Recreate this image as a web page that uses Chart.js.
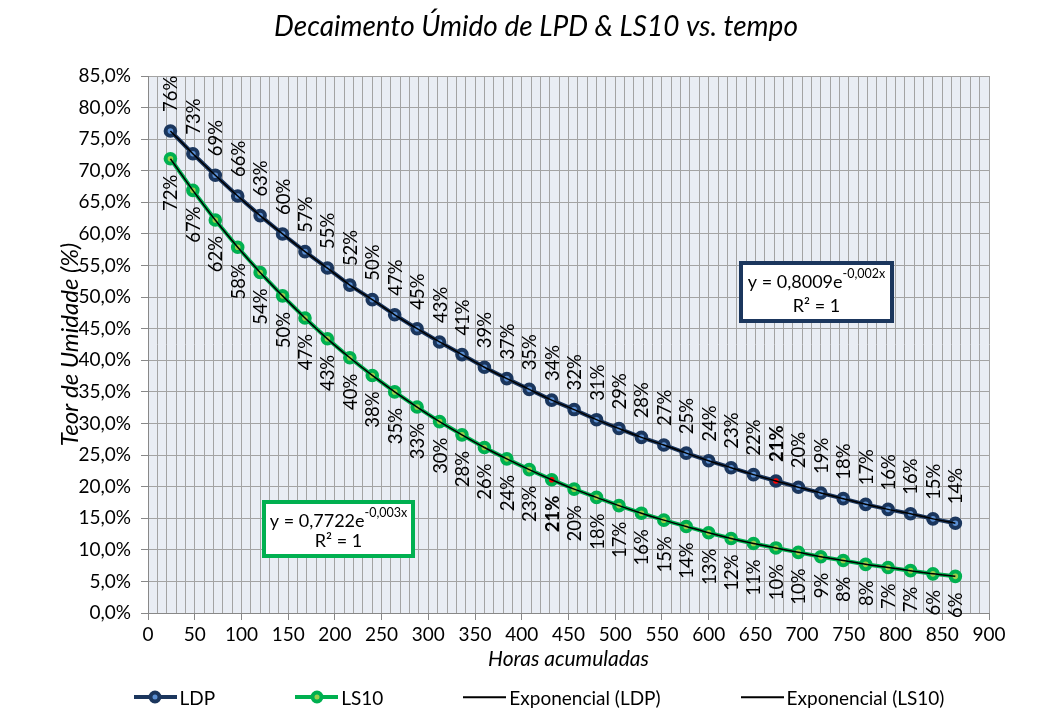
<!DOCTYPE html>
<html>
<head>
<meta charset="utf-8">
<script src="https://cdn.jsdelivr.net/npm/chart.js@4.4.1/dist/chart.umd.min.js"></script>
<style>
  html, body { margin: 0; padding: 0; background: #fff; }
  #wrap { position: relative; width: 1064px; height: 728px; }
  #legend {
    position: absolute; left: 7px; top: 685px; width: 1064px;
    display: flex; justify-content: center; align-items: center;
    font: 19px Lato, sans-serif; color: #000;
  }
  .item { display: flex; align-items: center; margin: 0 40px; }
  .sample { position: relative; width: 43px; height: 24px; margin-right: 3px; }
  .sample .line { position: absolute; left: 0; right: 0; top: 50%; transform: translateY(-50%); }
  .sample .dot {
    position: absolute; left: 50%; top: 50%; transform: translate(-50%, -50%);
    width: 5px; height: 5px; border-radius: 50%; border-style: solid; border-width: 4px;
  }
</style>
</head>
<body>
<div id="wrap">
  <canvas id="myChart" width="1064" height="728"></canvas>
  <div id="legend"></div>
</div>
<script>
// hours of accumulated drying
const hours = [24, 48, 72, 96, 120, 144, 168, 192, 216, 240, 264, 288, 312, 336, 360, 384, 408, 432,
  456, 480, 504, 528, 552, 576, 600, 624, 648, 672, 696, 720, 744, 768, 792, 816, 840, 864];

// moisture content (%)
const ldp = [76.3, 72.7, 69.3, 66.0, 62.9, 60.0, 57.2, 54.6, 51.9, 49.6, 47.2, 45.0, 42.9, 40.9, 38.9, 37.1, 35.4, 33.7,
  32.2, 30.6, 29.2, 27.8, 26.6, 25.3, 24.1, 23.0, 21.9, 20.9, 19.9, 19.0, 18.1, 17.2, 16.4, 15.7, 14.9, 14.2];
const ls10 = [71.9, 66.9, 62.2, 57.9, 53.9, 50.2, 46.7, 43.4, 40.4, 37.6, 35.0, 32.6, 30.3, 28.2, 26.2, 24.4, 22.7, 21.1,
  19.6, 18.3, 17.0, 15.8, 14.7, 13.7, 12.7, 11.8, 11.0, 10.3, 9.6, 8.9, 8.3, 7.7, 7.2, 6.7, 6.2, 5.8];

// points marked in red / bold label
const ldpMark = 27;
const ls10Mark = 17;

const NAVY = '#1b365d';
const BLUE_IN = '#5b8fd3';
const GREEN = '#00b050';
const GREEN_IN = '#9bd04a';

const toPts = arr => hours.map((h, i) => ({ x: h, y: arr[i] }));
const centers = (mark, base) => hours.map((h, i) => (i === mark ? '#ff0000' : base));

// plot area fill + title (title is centred on the whole page, not the chart box)
const plotBg = {
  id: 'plotBg',
  beforeDraw(chart) {
    const { ctx, chartArea: a } = chart;
    ctx.save();
    ctx.fillStyle = '#e9edf4';
    ctx.fillRect(a.left, a.top, a.right - a.left, a.bottom - a.top);
    ctx.font = 'italic 28px Lato';
    ctx.fillStyle = '#000';
    ctx.textAlign = 'center';
    ctx.textBaseline = 'middle';
    ctx.fillText('Decaimento Úmido de LPD & LS10 vs. tempo', 536, 27);
    ctx.restore();
  }
};

// rotated value labels
const pointLabels = {
  id: 'pointLabels',
  afterDatasetsDraw(chart) {
    const ctx = chart.ctx;
    chart.data.datasets.forEach((ds, i) => {
      if (!ds.labelSide) return;
      const meta = chart.getDatasetMeta(i);
      meta.data.forEach((pt, j) => {
        const txt = Math.round(ds.data[j].y) + '%';
        ctx.save();
        ctx.translate(pt.x, pt.y);
        ctx.rotate(-Math.PI / 2);
        ctx.font = (j === ds.mark ? 'bold ' : '') + '18.5px Lato';
        ctx.fillStyle = '#000';
        ctx.textBaseline = 'middle';
        if (ds.labelSide === 'above') {
          ctx.textAlign = 'left';
          ctx.fillText(txt, 19, 1);
        } else {
          ctx.textAlign = 'right';
          ctx.fillText(txt, -16, 1);
        }
        ctx.restore();
      });
    });
  }
};

// equation boxes
const eqBoxes = {
  id: 'eqBoxes',
  afterDraw(chart) {
    const ctx = chart.ctx;
    const boxes = [
      { x: 741, y: 263, w: 151, h: 58, color: NAVY, a: '0,8009', b: '-0,002x' },
      { x: 264, y: 502, w: 149, h: 54, color: GREEN, a: '0,7722', b: '-0,003x' }
    ];
    boxes.forEach(b => {
      ctx.save();
      ctx.fillStyle = '#fff';
      ctx.fillRect(b.x, b.y, b.w, b.h);
      ctx.strokeStyle = b.color;
      ctx.lineWidth = 4;
      ctx.strokeRect(b.x, b.y, b.w, b.h);
      ctx.fillStyle = '#000';
      ctx.textBaseline = 'alphabetic';
      const main = 'y = ' + b.a + 'e';
      ctx.font = '12.5px Lato';
      const supW = ctx.measureText(b.b).width;
      ctx.font = '18px Lato';
      const mainW = ctx.measureText(main).width;
      const sx = b.x + (b.w - mainW - supW) / 2;
      ctx.textAlign = 'left';
      ctx.fillText(main, sx, b.y + 25);
      ctx.font = '12.5px Lato';
      ctx.fillText(b.b, sx + mainW, b.y + 15);
      ctx.font = '18px Lato';
      ctx.textAlign = 'center';
      ctx.fillText('R² = 1', b.x + b.w / 2, b.y + b.h - 9);
      ctx.restore();
    });
  }
};

new Chart(document.getElementById('myChart'), {
  type: 'line',
  data: {
    datasets: [
      {
        label: 'Exponencial (LDP)',
        data: toPts(ldp),
        borderColor: '#000',
        borderWidth: 1.5,
        pointRadius: 0,
        cubicInterpolationMode: 'monotone',
        order: 0,
      },
      {
        label: 'Exponencial (LS10)',
        data: toPts(ls10),
        borderColor: '#000',
        borderWidth: 1.5,
        pointRadius: 0,
        cubicInterpolationMode: 'monotone',
        order: 0,
      },
      {
        label: 'LDP',
        data: toPts(ldp),
        borderColor: NAVY,
        borderWidth: 4,
        pointRadius: 4.8,
        pointBorderWidth: 4,
        pointBorderColor: NAVY,
        pointBackgroundColor: centers(ldpMark, BLUE_IN),
        labelSide: 'above',
        mark: ldpMark,
        order: 1,
      },
      {
        label: 'LS10',
        data: toPts(ls10),
        borderColor: GREEN,
        borderWidth: 4,
        pointRadius: 4.8,
        pointBorderWidth: 4,
        pointBorderColor: GREEN,
        pointBackgroundColor: centers(ls10Mark, GREEN_IN),
        labelSide: 'below',
        mark: ls10Mark,
        order: 1,
      },
    ],
  },
  options: {
    responsive: false,
    animation: false,
    layout: { padding: { left: 0, right: 75, top: 76, bottom: 55 } },
    plugins: {
      legend: { display: false },
      tooltip: { enabled: false },
      title: { display: false },
    },
    scales: {
      x: {
        type: 'linear',
        min: 0,
        max: 900,
        afterFit(scale) { scale.height = 60; },
        border: { display: true, color: '#888' },
        grid: {
          color: '#a3a3a3',
          tickLength: 7,
          tickColor: c => (c.tick && c.tick.value % 50 === 0 ? '#888' : 'rgba(0,0,0,0)'),
        },
        ticks: {
          stepSize: 10,
          autoSkip: false,
          maxRotation: 0,
          padding: 3,
          color: '#000',
          font: { family: 'Lato', size: 19 },
          callback: v => (v % 50 === 0 ? v : ''),
        },
        title: {
          display: true,
          text: 'Horas acumuladas',
          color: '#000',
          font: { family: 'Lato', size: 21, style: 'italic' },
          padding: { top: 0, bottom: 1 },
        },
      },
      y: {
        min: 0,
        max: 85,
        afterFit(scale) { scale.width = 148; },
        border: { display: true, color: '#888' },
        grid: { color: '#a3a3a3', tickLength: 7, tickColor: '#888' },
        ticks: {
          stepSize: 5,
          padding: 10,
          color: '#000',
          font: { family: 'Lato', size: 19 },
          callback: v => v.toFixed(1).replace('.', ',') + '%',
        },
        title: {
          display: true,
          text: 'Teor de Umidade (%)',
          color: '#000',
          font: { family: 'Lato', size: 24, style: 'italic' },
          padding: { top: 56, bottom: 0 },
        },
      },
    },
  },
  plugins: [plotBg, pointLabels, eqBoxes],
});

// html legend
const legendItems = [
  { text: 'LDP', line: NAVY, lw: 4, dot: [NAVY, BLUE_IN] },
  { text: 'LS10', line: GREEN, lw: 4, dot: [GREEN, GREEN_IN] },
  { text: 'Exponencial (LDP)', line: '#000', lw: 1.5 },
  { text: 'Exponencial (LS10)', line: '#000', lw: 1.5 },
];
const legendEl = document.getElementById('legend');
legendItems.forEach(it => {
  const item = document.createElement('div');
  item.className = 'item';
  const sample = document.createElement('div');
  sample.className = 'sample';
  const line = document.createElement('div');
  line.className = 'line';
  line.style.height = it.lw + 'px';
  line.style.background = it.line;
  sample.appendChild(line);
  if (it.dot) {
    const dot = document.createElement('div');
    dot.className = 'dot';
    dot.style.borderColor = it.dot[0];
    dot.style.background = it.dot[1];
    sample.appendChild(dot);
  }
  const label = document.createElement('span');
  label.textContent = it.text;
  item.appendChild(sample);
  item.appendChild(label);
  legendEl.appendChild(item);
});
</script>
</body>
</html>
